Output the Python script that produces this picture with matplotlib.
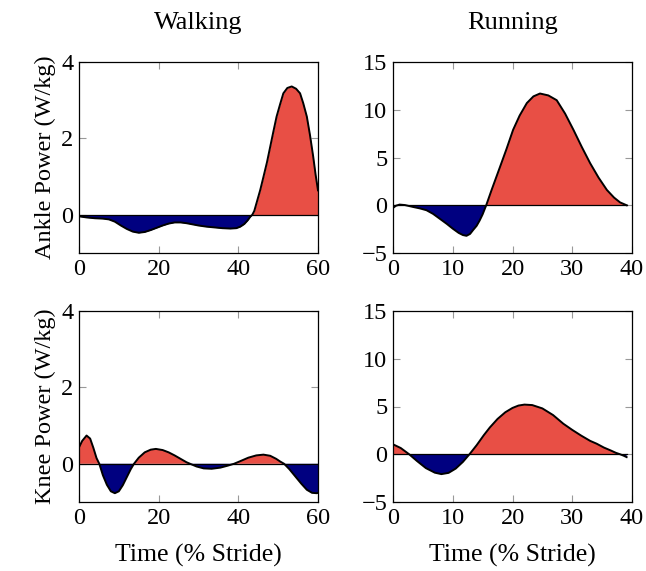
import numpy as np
import matplotlib.pyplot as plt

plt.rcParams['font.family'] = ['Liberation Serif', 'DejaVu Serif']
plt.rcParams['mathtext.fontset'] = 'stix'
plt.rcParams['font.size'] = 17.5

# walking ankle power (W/kg), x = % stride
walk_ankle_x = [0, 2, 4, 6, 7.5, 9, 10.5, 12, 13.5, 15, 16.5, 18, 19.5, 21, 22.5, 24, 25.5, 27, 28.5, 30,
                32, 34, 36, 38, 39.5, 40.5, 41.5, 42.3, 43, 43.5, 44, 44.6, 45.5, 46.3, 47.2, 48, 48.8,
                49.6, 50.5, 51.3, 52.3, 53.4, 54.5, 55.5, 56.3, 57.2, 58, 58.8, 59.4, 60]
walk_ankle_y = [-0.04, -0.07, -0.09, -0.1, -0.12, -0.18, -0.28, -0.37, -0.44, -0.47, -0.45, -0.4, -0.34,
                -0.28, -0.23, -0.2, -0.2, -0.22, -0.25, -0.28, -0.31, -0.33, -0.35, -0.36, -0.35, -0.31,
                -0.24, -0.15, -0.05, 0.0, 0.1, 0.32, 0.65, 0.99, 1.38, 1.78, 2.18, 2.57, 2.9, 3.18, 3.32,
                3.36, 3.3, 3.18, 2.92, 2.57, 2.08, 1.52, 1.05, 0.64]

# running ankle power
run_ankle_x = [0, 0.5, 1.1, 2, 3.3, 4.5, 5.6, 6.7, 7.8, 9, 10, 11, 11.7, 12.3, 12.9, 13.4, 14, 14.5, 15,
               15.6, 16.5, 17.9, 19, 20.1, 21.2, 22.4, 23.5, 24.6, 26, 27.4, 28.8, 30.2, 31.6, 33.0, 34.4,
               35.8, 37, 38.0, 39.1]
run_ankle_y = [-0.28, -0.05, 0.07, 0.02, -0.17, -0.33, -0.52, -0.9, -1.4, -1.95, -2.45, -2.9, -3.12, -3.2,
               -3.0, -2.6, -2.15, -1.6, -0.95, 0.0, 1.6, 4.0, 5.9, 7.9, 9.4, 10.7, 11.4, 11.7, 11.5, 11.0,
               9.6, 7.9, 6.1, 4.4, 2.9, 1.6, 0.8, 0.3, 0.0]

# walking knee power
walk_knee_x = [0, 0.8, 1.9, 2.8, 3.6, 4.4, 5.1, 6, 7, 8, 9, 10, 11, 12, 13, 13.8, 15, 16.5, 18, 19.3, 21,
               22.5, 24, 25.5, 27, 27.9, 29.5, 31.3, 33.3, 35.5, 37.3, 38.9, 40.5, 42.5, 44.5, 46.3, 48,
               49.5, 50.5, 51.5, 52.8, 54.3, 55.8, 57.2, 58.5, 59.7, 60]
walk_knee_y = [0.43, 0.6, 0.74, 0.66, 0.42, 0.15, 0.0, -0.3, -0.55, -0.72, -0.77, -0.72, -0.56, -0.35,
               -0.14, 0.0, 0.16, 0.3, 0.37, 0.39, 0.36, 0.3, 0.22, 0.13, 0.04, 0.0, -0.07, -0.12, -0.13,
               -0.1, -0.05, 0.0, 0.07, 0.16, 0.22, 0.24, 0.21, 0.13, 0.06, 0.0, -0.14, -0.33, -0.52, -0.68,
               -0.76, -0.77, -0.76]

# running knee power
run_knee_x = [0, 1.3, 2.7, 4, 5.5, 7, 8.1, 9.3, 10.5, 11.7, 12.8, 14, 15.2, 16.2, 17.5, 18.8, 20, 21, 22,
              23.3, 25, 26.8, 28.5, 30, 31.5, 33, 34.1, 35.3, 36.5, 37.3, 38.0, 38.6, 39.1]
run_knee_y = [1.04, 0.65, 0.0, -0.7, -1.45, -1.93, -2.08, -1.95, -1.5, -0.8, 0.0, 0.95, 2.0, 2.8, 3.7, 4.4,
              4.85, 5.1, 5.2, 5.15, 4.8, 4.1, 3.2, 2.55, 1.95, 1.4, 1.1, 0.7, 0.38, 0.15, 0.0, -0.15, -0.3]

col_titles = ['Walking', 'Running']
row_labels = ['Ankle Power (W/kg)', 'Knee Power (W/kg)']
red = '#E84F45'
navy = '#000080'

fig = plt.figure(figsize=(6.46, 5.71), dpi=100)
lefts = [79 / 646, 393 / 646]
bottoms = [1 - 253 / 571, 1 - 502 / 571]
w = 239 / 646
h = 191 / 571

series = [[(walk_ankle_x, walk_ankle_y), (run_ankle_x, run_ankle_y)],
          [(walk_knee_x, walk_knee_y), (run_knee_x, run_knee_y)]]

for r in range(2):
    for c in range(2):
        ax = fig.add_axes([lefts[c], bottoms[r], w, h])
        x = np.array(series[r][c][0])
        y = np.array(series[r][c][1])
        ax.fill_between(x, y, 0, where=y >= 0, interpolate=True, color=red, lw=0)
        ax.fill_between(x, y, 0, where=y <= 0, interpolate=True, color=navy, lw=0)
        ax.plot([x[0], x[-1]], [0, 0], color='black', lw=0.9)
        ax.plot(x, y, color='black', lw=1.4, solid_joinstyle='round')
        if c == 0:
            ax.set_xlim(0, 60)
            ax.set_ylim(-1, 4)
            ax.set_xticks([0, 20, 40, 60])
            ax.set_yticks([0, 2, 4])
            ax.set_ylabel(row_labels[r], labelpad=4)
        else:
            ax.set_xlim(0, 40)
            ax.set_ylim(-5, 15)
            ax.set_xticks([0, 10, 20, 30, 40])
            ax.set_yticks([-5, 0, 5, 10, 15])
        ax.tick_params(direction='in', length=5, width=0.8, color='#999999',
                       top=True, right=True, pad=4)
        for s in ax.spines.values():
            s.set_linewidth(0.9)
        if r == 0:
            ax.set_title(col_titles[c], pad=24, fontsize=19)
        else:
            ax.set_xlabel('Time (% Stride)', labelpad=11, fontsize=18.5)

fig.savefig('out.png', dpi=100)
